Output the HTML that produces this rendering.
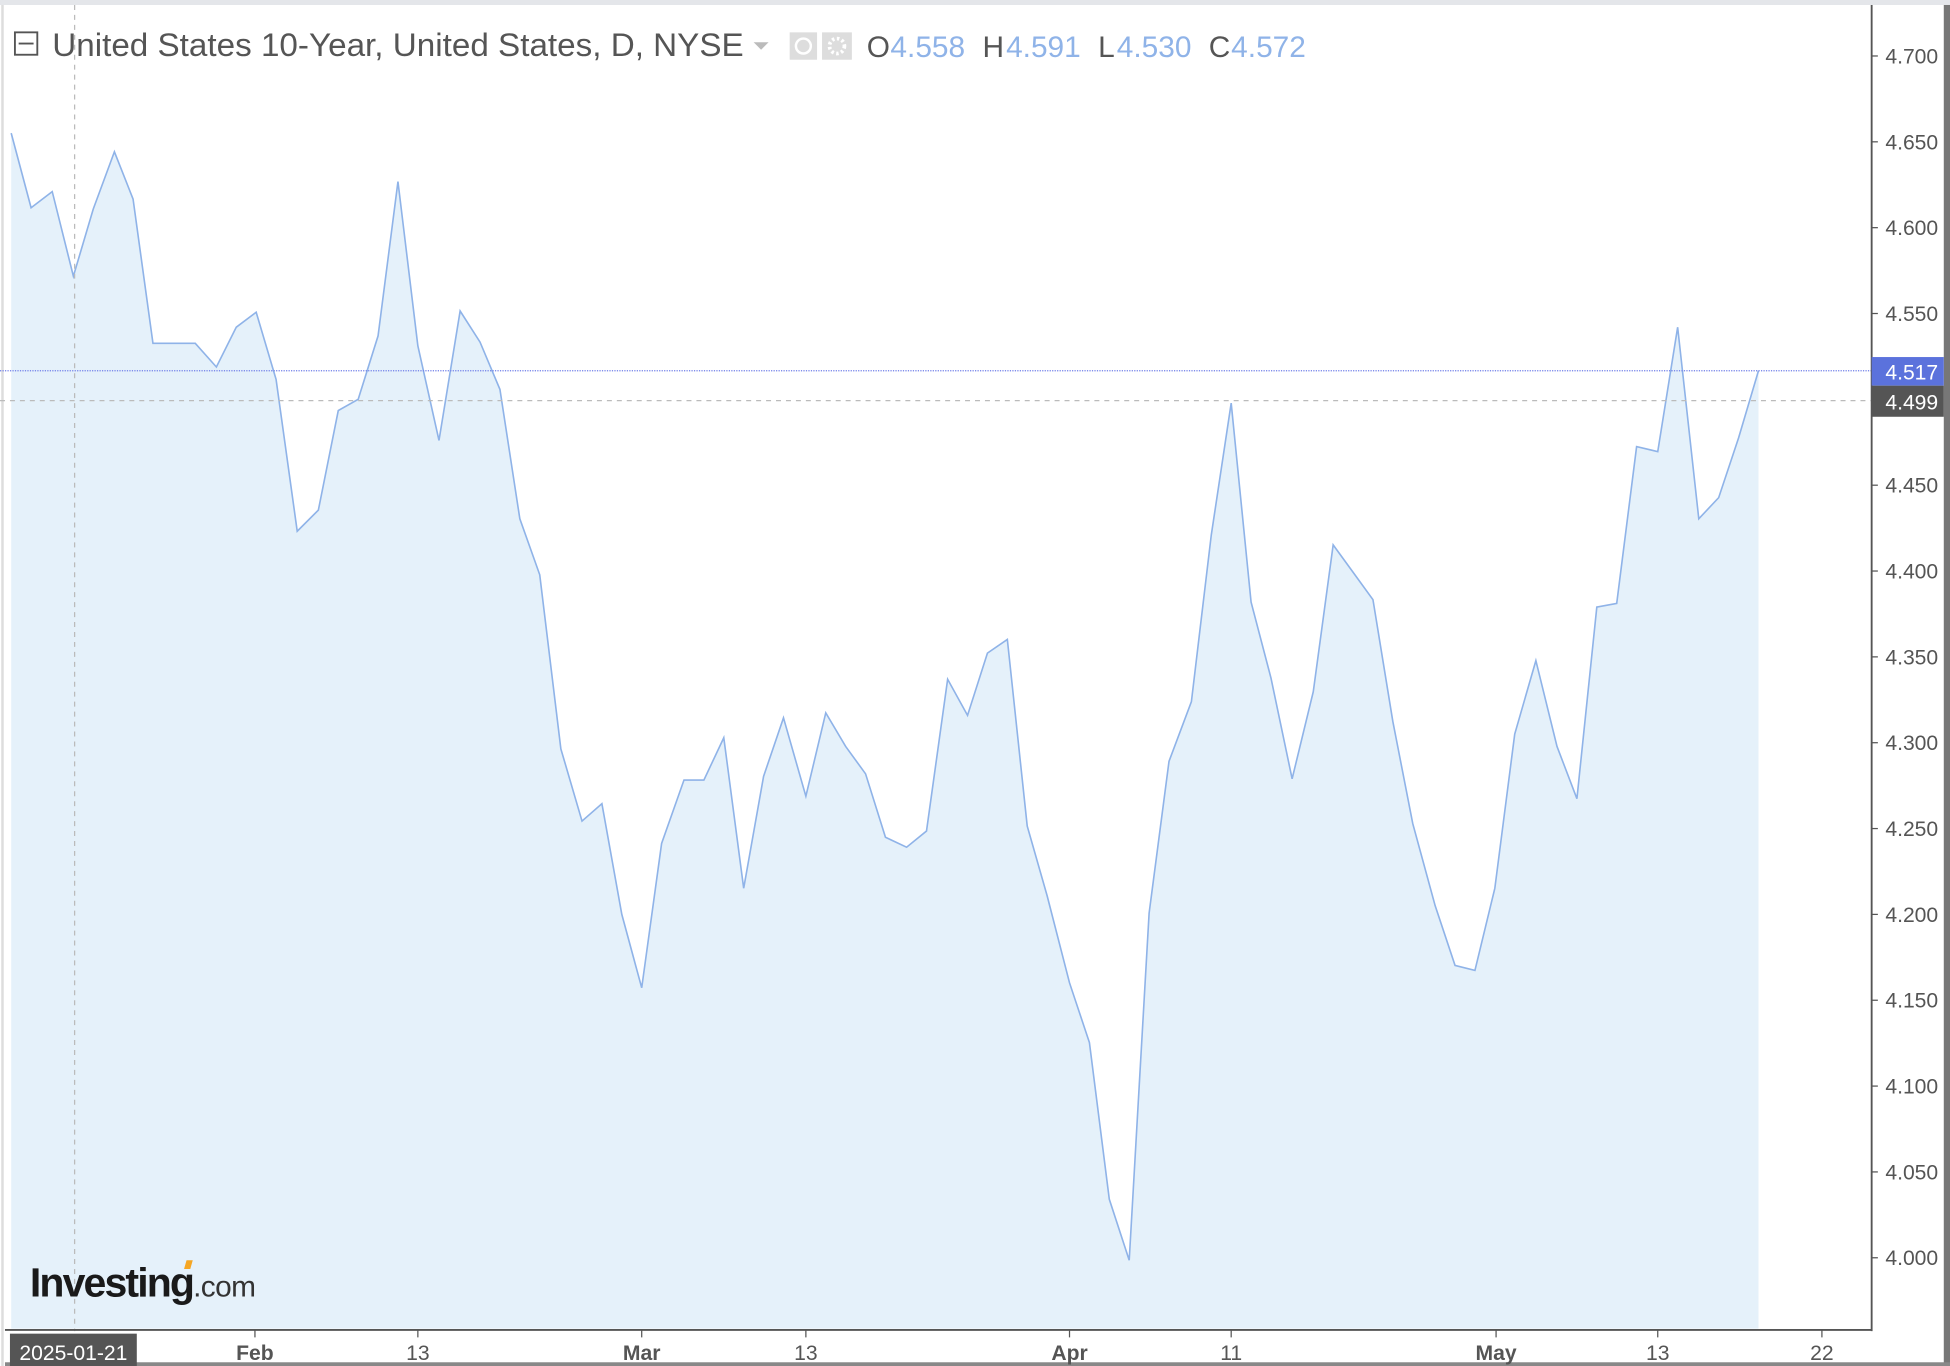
<!DOCTYPE html>
<html><head><meta charset="utf-8"><style>
html,body{margin:0;padding:0;background:#fff;}
svg{display:block;}
text{font-family:"Liberation Sans",sans-serif;}
</style></head><body>
<svg width="1950" height="1366" viewBox="0 0 1568 1098" preserveAspectRatio="none">
<rect x="0" y="0" width="1568" height="1098" fill="#fff"/>
<rect x="0" y="0" width="1568" height="4" fill="#e4e6ea"/>
<line x1="2" y1="4" x2="2" y2="1098" stroke="#ddd" stroke-width="2"/>
<polygon fill="#e5f1fa" points="9,1068 9,107 25,167 42,154 59,222 75,168 92,122 107,160 123,276 140,276 157,276 174,295 190,263 206,251 222,305 239,427 256,410 272,330 288,321 304,270 320,146 336,278 353,354 370,250 386,275 402,313 418,417 434,462 451,602 468,660 484,646 500,735 516,794 532,678 550,627 566,627 582,593 598,714 614,624 630,577 648,640 664,573 680,600 696,622 712,673 729,681 745,668 762,546 778,575 794,525 810,514 826,664 842,720 860,790 876,838 892,964 908,1013 924,734 940,612 958,564 974,430 990,324 1006,484 1022,545 1039,626 1056,556 1072,438 1088,460 1104,482 1120,580 1136,662 1154,728 1170,776 1186,780 1202,714 1218,590 1235,531 1252,600 1268,642 1284,488 1300,485 1316,359 1333,363 1349,263 1366,417 1382,400 1398,352 1414,298 1414,1068"/>
<polyline fill="none" stroke="#8fb3e8" stroke-width="1.3" points="9,107 25,167 42,154 59,222 75,168 92,122 107,160 123,276 140,276 157,276 174,295 190,263 206,251 222,305 239,427 256,410 272,330 288,321 304,270 320,146 336,278 353,354 370,250 386,275 402,313 418,417 434,462 451,602 468,660 484,646 500,735 516,794 532,678 550,627 566,627 582,593 598,714 614,624 630,577 648,640 664,573 680,600 696,622 712,673 729,681 745,668 762,546 778,575 794,525 810,514 826,664 842,720 860,790 876,838 892,964 908,1013 924,734 940,612 958,564 974,430 990,324 1006,484 1022,545 1039,626 1056,556 1072,438 1088,460 1104,482 1120,580 1136,662 1154,728 1170,776 1186,780 1202,714 1218,590 1235,531 1252,600 1268,642 1284,488 1300,485 1316,359 1333,363 1349,263 1366,417 1382,400 1398,352 1414,298"/>
<line x1="60" y1="4" x2="60" y2="1070" stroke="#bbb" stroke-dasharray="4,4"/>
<line x1="0" y1="298" x2="1505" y2="298" stroke="#6f7ee8" stroke-dasharray="1,1"/>
<line x1="0" y1="322" x2="1505" y2="322" stroke="#bbb" stroke-dasharray="4,4"/>
<line x1="1505" y1="4" x2="1505" y2="1070" stroke="#555" stroke-width="1.5"/>
<line x1="4" y1="1069" x2="1505" y2="1069" stroke="#555" stroke-width="1.5"/>
<rect x="1563" y="4" width="5" height="1094" fill="#777"/>
<rect x="4" y="1095" width="1564" height="3" fill="#888"/>
<g font-size="17" fill="#555">
<text x="1516" y="51">4.700</text><text x="1516" y="120">4.650</text><text x="1516" y="189">4.600</text><text x="1516" y="258">4.550</text><text x="1516" y="396">4.450</text><text x="1516" y="465">4.400</text><text x="1516" y="534">4.350</text><text x="1516" y="603">4.300</text><text x="1516" y="672">4.250</text><text x="1516" y="741">4.200</text><text x="1516" y="810">4.150</text><text x="1516" y="879">4.100</text><text x="1516" y="948">4.050</text><text x="1516" y="1017">4.000</text>
</g>
<g stroke="#555"><line x1="1505" y1="45" x2="1510" y2="45"/><line x1="1505" y1="114" x2="1510" y2="114"/><line x1="1505" y1="183" x2="1510" y2="183"/><line x1="1505" y1="252" x2="1510" y2="252"/><line x1="1505" y1="390" x2="1510" y2="390"/><line x1="1505" y1="459" x2="1510" y2="459"/><line x1="1505" y1="528" x2="1510" y2="528"/><line x1="1505" y1="597" x2="1510" y2="597"/><line x1="1505" y1="666" x2="1510" y2="666"/><line x1="1505" y1="735" x2="1510" y2="735"/><line x1="1505" y1="804" x2="1510" y2="804"/><line x1="1505" y1="873" x2="1510" y2="873"/><line x1="1505" y1="942" x2="1510" y2="942"/><line x1="1505" y1="1011" x2="1510" y2="1011"/>
<line x1="205" y1="1069" x2="205" y2="1075"/><line x1="336" y1="1069" x2="336" y2="1075"/><line x1="516" y1="1069" x2="516" y2="1075"/><line x1="648" y1="1069" x2="648" y2="1075"/><line x1="860" y1="1069" x2="860" y2="1075"/><line x1="990" y1="1069" x2="990" y2="1075"/><line x1="1203" y1="1069" x2="1203" y2="1075"/><line x1="1333" y1="1069" x2="1333" y2="1075"/><line x1="1465" y1="1069" x2="1465" y2="1075"/></g>
<rect x="1505" y="287" width="58" height="23" fill="#5b72dc"/>
<text x="1516" y="305" font-size="17" fill="#fff">4.517</text>
<rect x="1505" y="310" width="58" height="25" fill="#555"/>
<text x="1516" y="329" font-size="17" fill="#fff">4.499</text>
<g font-size="17" fill="#555" text-anchor="middle">
<text x="205" y="1093" font-weight="bold">Feb</text><text x="336" y="1093">13</text><text x="516" y="1093" font-weight="bold">Mar</text><text x="648" y="1093">13</text><text x="860" y="1093" font-weight="bold">Apr</text><text x="990" y="1093">11</text><text x="1203" y="1093" font-weight="bold">May</text><text x="1333" y="1093">13</text><text x="1465" y="1093">22</text>
</g>
<rect x="8" y="1072" width="102" height="26" fill="#555"/>
<text x="59" y="1093" font-size="17" fill="#fff" text-anchor="middle">2025-01-21</text>
<rect x="12" y="26" width="18" height="18" fill="none" stroke="#555" stroke-width="1.5"/>
<line x1="15" y1="35" x2="27" y2="35" stroke="#555" stroke-width="1.5"/>
<text x="42" y="45" font-size="26" fill="#555" textLength="556" lengthAdjust="spacingAndGlyphs">United States 10-Year, United States, D, NYSE</text>
<polygon points="606,34 618,34 612,40" fill="#bbb"/>
<rect x="635" y="26" width="22" height="22" fill="#ddd"/><circle cx="646" cy="37" r="6" fill="none" stroke="#fff" stroke-width="2"/>
<rect x="661" y="26" width="24" height="22" fill="#ddd"/><circle cx="673" cy="37" r="6" fill="none" stroke="#fff" stroke-width="3" stroke-dasharray="2,2"/>
<g font-size="24"><text x="697" y="46" fill="#555">O</text><text x="716" y="46" fill="#8fb3e8">4.558</text>
<text x="790" y="46" fill="#555">H</text><text x="809" y="46" fill="#8fb3e8">4.591</text>
<text x="883" y="46" fill="#555">L</text><text x="898" y="46" fill="#8fb3e8">4.530</text>
<text x="972" y="46" fill="#555">C</text><text x="990" y="46" fill="#8fb3e8">4.572</text></g>
<text x="24" y="1042" font-size="33" font-weight="bold" fill="#1a1a1a" letter-spacing="-1.5">Investing<tspan font-size="24" font-weight="normal" fill="#333" letter-spacing="-0.5">.com</tspan></text>
<polygon points="150,1013 155,1013 153,1020 148,1020" fill="#f5a623"/>
</svg>
</body></html>
